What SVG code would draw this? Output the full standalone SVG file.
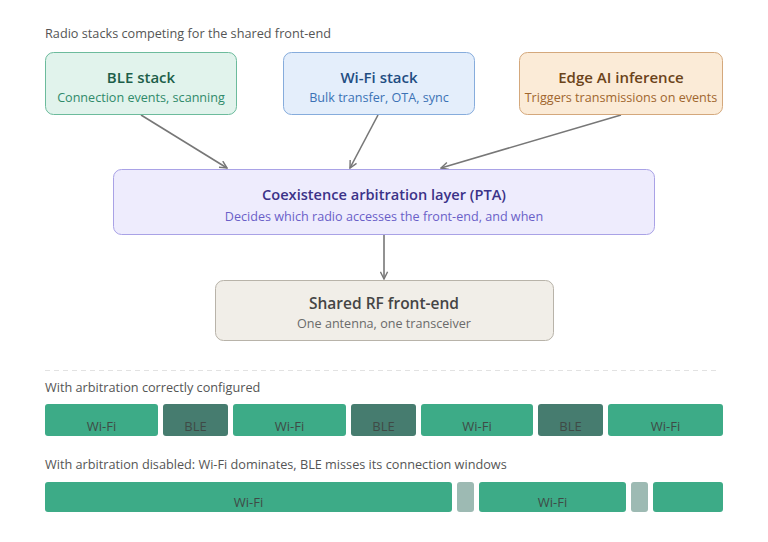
<svg xmlns="http://www.w3.org/2000/svg" width="768" height="542" viewBox="0 0 768 542">
<style>
text{font-family:"Open Sans","Noto Sans",sans-serif}
.cap{font-size:12.7px;fill:#555}
.t{font-size:15px;font-weight:600;text-anchor:middle}
.s{font-size:12.6px;text-anchor:middle}
.bar{font-size:13px;fill:#3f4a46;text-anchor:middle}
.wifi{fill:#3dab87}
.ble{fill:#467c6f}
.gap{fill:#9dbab3}
.conn{stroke:#777;stroke-width:1.6;fill:none;marker-end:url(#ah)}
</style>
<defs>
<marker id="ah" viewBox="0 0 10 10" refX="9" refY="5" markerWidth="9" markerHeight="9" markerUnits="userSpaceOnUse" orient="auto">
<path d="M1,1 L9,5 L1,9" fill="none" stroke="#777" stroke-width="1.6"/>
</marker>
</defs>
<rect width="768" height="542" fill="#fff"/>
<text class="cap" x="45" y="38">Radio stacks competing for the shared front-end</text>

<g id="connectors">
<line class="conn" x1="141" y1="115" x2="227" y2="168"/>
<line class="conn" x1="378" y1="115" x2="350" y2="168"/>
<line class="conn" x1="621" y1="115" x2="441" y2="168"/>
<line class="conn" x1="384" y1="235" x2="384" y2="279"/>
</g>

<g id="ble">
<rect x="45.5" y="52.5" width="191" height="62" rx="8" fill="#e1f3ec" stroke="#6cbb9c"/>
<text class="t" x="141" y="83" fill="#1c5e49">BLE stack</text>
<text class="s" x="141" y="102" fill="#2f8a6a">Connection events, scanning</text>
</g>
<g id="wifi">
<rect x="283.5" y="52.5" width="191" height="62" rx="8" fill="#e4eefb" stroke="#86acdc"/>
<text class="t" x="379" y="83" fill="#1f4d82">Wi-Fi stack</text>
<text class="s" x="379" y="102" fill="#3b72b5">Bulk transfer, OTA, sync</text>
</g>
<g id="edgeai">
<rect x="519.5" y="52.5" width="203" height="62" rx="8" fill="#fbebd7" stroke="#d4a87c"/>
<text class="t" x="621" y="83" fill="#6b431a">Edge AI inference</text>
<text class="s" x="621" y="102" fill="#a0662e">Triggers transmissions on events</text>
</g>
<g id="pta">
<rect x="113.5" y="169.5" width="541" height="65" rx="8" fill="#eeecfd" stroke="#a9a2e6"/>
<text class="t" x="384" y="200" fill="#3b3288" style="font-size:14.6px">Coexistence arbitration layer (PTA)</text>
<text class="s" x="384" y="221" fill="#6a5fc8">Decides which radio accesses the front-end, and when</text>
</g>
<g id="rf">
<rect x="215.5" y="280.5" width="338" height="60" rx="8" fill="#f1eee8" stroke="#b8b3a9"/>
<text class="t" x="384" y="309" fill="#454545" style="font-size:15.5px">Shared RF front-end</text>
<text class="s" x="384" y="328" fill="#6a6a6a">One antenna, one transceiver</text>
</g>

<line x1="45" y1="370.5" x2="720" y2="370.5" stroke="#e2e2e2" stroke-dasharray="5,4"/>

<text class="cap" x="45" y="392">With arbitration correctly configured</text>
<g id="row1">
<rect class="wifi" x="45" y="404" width="113" height="32" rx="3"/>
<rect class="ble" x="163" y="404" width="65" height="32" rx="3"/>
<rect class="wifi" x="233" y="404" width="113" height="32" rx="3"/>
<rect class="ble" x="351" y="404" width="65" height="32" rx="3"/>
<rect class="wifi" x="421" y="404" width="112" height="32" rx="3"/>
<rect class="ble" x="538" y="404" width="65" height="32" rx="3"/>
<rect class="wifi" x="608" y="404" width="115" height="32" rx="3"/>
<text class="bar" x="101.5" y="431">Wi-Fi</text>
<text class="bar" x="195.5" y="431">BLE</text>
<text class="bar" x="289.5" y="431">Wi-Fi</text>
<text class="bar" x="383.5" y="431">BLE</text>
<text class="bar" x="477" y="431">Wi-Fi</text>
<text class="bar" x="570.5" y="431">BLE</text>
<text class="bar" x="665.5" y="431">Wi-Fi</text>
</g>

<text class="cap" x="45" y="469">With arbitration disabled: Wi-Fi dominates, BLE misses its connection windows</text>
<g id="row2">
<rect class="wifi" x="45" y="482" width="407" height="30" rx="3"/>
<rect class="gap" x="457" y="482" width="17" height="30" rx="3"/>
<rect class="wifi" x="479" y="482" width="147" height="30" rx="3"/>
<rect class="gap" x="631" y="482" width="17" height="30" rx="3"/>
<rect class="wifi" x="653" y="482" width="70" height="30" rx="3"/>
<text class="bar" x="248.5" y="507">Wi-Fi</text>
<text class="bar" x="552.5" y="507">Wi-Fi</text>
</g>
</svg>
